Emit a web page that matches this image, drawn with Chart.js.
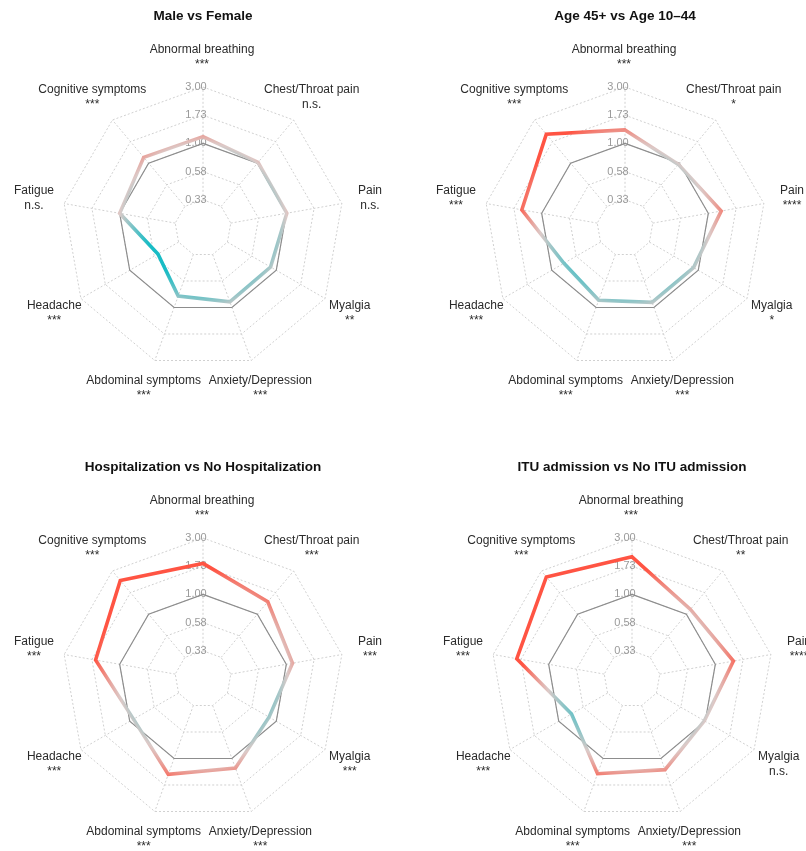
<!DOCTYPE html>
<html>
<head>
<meta charset="utf-8">
<title>Symptom odds ratios by group</title>
<script src="https://cdn.jsdelivr.net/npm/chart.js@4.4.1/dist/chart.umd.min.js"></script>
<style>
  html, body { margin: 0; padding: 0; background: #ffffff; }
  body { width: 806px; height: 851px; position: relative; overflow: hidden; }
  .panel { position: absolute; }
  .panel canvas { display: block; }
</style>
</head>
<body>
<div class="panel" style="left:0px;top:0px;"><canvas id="c0" width="403" height="440"></canvas></div>
<div class="panel" style="left:403px;top:0px;"><canvas id="c1" width="403" height="440"></canvas></div>
<div class="panel" style="left:0px;top:440px;"><canvas id="c2" width="403" height="411"></canvas></div>
<div class="panel" style="left:403px;top:440px;"><canvas id="c3" width="403" height="411"></canvas></div>

<script>
// ---- data -------------------------------------------------------------
const symptoms = [
  'Abnormal breathing', 'Chest/Throat pain', 'Pain', 'Myalgia',
  'Anxiety/Depression', 'Abdominal symptoms', 'Headache', 'Fatigue',
  'Cognitive symptoms'
];

// ring labels (ratio scale, log-spaced)
const tickLabels = ['0.33', '0.58', '1.00', '1.73', '3.00'];

// no-difference reference (ratio = 1)
const referenceRatio = [1, 1, 1, 1, 1, 1, 1, 1, 1];

const titles = [
  'Male vs Female',
  'Age 45+ vs Age 10\u201344',
  'Hospitalization vs No Hospitalization',
  'ITU admission vs No ITU admission'
];

const maleVsFemale      = [1.14, 1.02, 1.01, 0.88, 0.89, 0.79, 0.53, 1.00, 1.16];
const age45VsAge10to44  = [1.30, 0.97, 1.29, 0.90, 0.90, 0.86, 0.76, 1.48, 2.09];
const hospVsNoHosp      = [1.83, 1.37, 1.13, 0.85, 1.22, 1.39, 0.92, 1.61, 2.36];
const ituVsNoItu        = [2.08, 1.13, 1.43, 0.98, 1.26, 1.37, 0.75, 1.88, 2.58];

const sigMaleVsFemale   = ['***', 'n.s.', 'n.s.', '**', '***', '***', '***', 'n.s.', '***'];
const sigAge            = ['***', '*', '****', '*', '***', '***', '***', '***', '***'];
const sigHosp           = ['***', '***', '***', '***', '***', '***', '***', '***', '***'];
const sigItu            = ['***', '**', '****', 'n.s.', '***', '***', '***', '***', '***'];

// ---- layout / style ---------------------------------------------------
const FONT = '"Liberation Sans", Arial, Helvetica, sans-serif';
const TEAL = '#19bcc5';
const MID  = '#dccac8';
const RED  = '#ff5443';
const GRID = '#d0d0d0';

const panels = [
  { canvas: 'c0', cx: 203, cy: 228, title: titles[0], values: maleVsFemale,     sig: sigMaleVsFemale },
  { canvas: 'c1', cx: 222, cy: 228, title: titles[1], values: age45VsAge10to44, sig: sigAge },
  { canvas: 'c2', cx: 203, cy: 239, title: titles[2], values: hospVsNoHosp,     sig: sigHosp },
  { canvas: 'c3', cx: 229, cy: 239, title: titles[3], values: ituVsNoItu,       sig: sigItu }
];
const OUTER = 141;          // radius of the 3.00 ring

// ratios are drawn on a log base-3 radial axis
const LOG3 = v => Math.log(v) / Math.log(3);

// colour along the line follows the ratio: teal below 1, red above 1
function ratioGradient(context) {
  const chart = context.chart;
  const s = chart.scales && chart.scales.r;
  if (!chart.chartArea || !s || !s.drawingArea) return MID;
  const g = chart.ctx.createRadialGradient(s.xCenter, s.yCenter, 0, s.xCenter, s.yCenter, s.drawingArea);
  const at = v => Math.min(1, Math.max(0, s.getDistanceFromCenterForValue(v) / s.drawingArea));
  g.addColorStop(0, TEAL);
  g.addColorStop(at(-0.5), TEAL);
  g.addColorStop(at(0), MID);
  g.addColorStop(at(0.45), RED);
  g.addColorStop(1, RED);
  return g;
}

const radarDecor = {
  id: 'radarDecor',
  beforeDatasetsDraw(chart, args, opts) {
    const s = chart.scales.r;
    const ctx = chart.ctx;
    const inner = s.ticks[1].value;
    const outer = s.ticks[s.ticks.length - 1].value;
    ctx.save();
    // dotted spokes between the innermost and outermost rings
    ctx.strokeStyle = GRID;
    ctx.lineWidth = 1;
    ctx.setLineDash([2, 2]);
    for (let i = 0; i < symptoms.length; i++) {
      const a = s.getPointPositionForValue(i, inner);
      const b = s.getPointPositionForValue(i, outer);
      ctx.beginPath();
      ctx.moveTo(a.x, a.y);
      ctx.lineTo(b.x, b.y);
      ctx.stroke();
    }
    ctx.setLineDash([]);
    // ring labels along the top axis
    ctx.font = '11px ' + FONT;
    ctx.fillStyle = '#9a9a9a';
    ctx.textAlign = 'center';
    ctx.textBaseline = 'middle';
    tickLabels.forEach((t, k) => {
      const p = s.getPointPositionForValue(0, s.ticks[k + 1].value);
      ctx.fillText(t, p.x - 7, p.y);
    });
    ctx.restore();
  },
  afterDraw(chart, args, opts) {
    const s = chart.scales.r;
    const ctx = chart.ctx;
    ctx.save();
    ctx.textAlign = 'center';
    ctx.textBaseline = 'middle';
    // axis names with significance markers
    ctx.fillStyle = '#2b2b2b';
    ctx.font = '12px ' + FONT;
    const rLab = s.drawingArea * 1.21;
    for (let i = 0; i < symptoms.length; i++) {
      const p = s.getPointPosition(i, rLab);
      ctx.fillText(symptoms[i], p.x - 1, p.y - 7.5);
      ctx.fillText(opts.sig[i], p.x - 1, p.y + 7.5);
    }
    // panel title
    ctx.fillStyle = '#111111';
    ctx.font = 'bold 13.5px ' + FONT;
    ctx.fillText(opts.title, s.xCenter, s.yCenter - s.drawingArea * 1.504);
    ctx.restore();
  }
};

panels.forEach(pn => {
  const cv = document.getElementById(pn.canvas);
  const W = cv.width, H = cv.height;
  new Chart(cv, {
    type: 'radar',
    data: {
      labels: symptoms,
      datasets: [
        {
          data: pn.values.map(LOG3),
          borderColor: ratioGradient,
          borderWidth: 3.6,
          borderJoinStyle: 'miter',
          pointRadius: 0,
          fill: false
        },
        {
          data: referenceRatio.map(LOG3),
          borderColor: '#8d8d8d',
          borderWidth: 1.2,
          pointRadius: 0,
          fill: false
        }
      ]
    },
    options: {
      responsive: false,
      devicePixelRatio: 1,
      animation: false,
      events: [],
      layout: {
        padding: {
          left: pn.cx - OUTER,
          right: W - pn.cx - OUTER,
          top: pn.cy - OUTER,
          bottom: H - pn.cy - OUTER
        }
      },
      plugins: {
        legend: { display: false },
        tooltip: { enabled: false },
        title: { display: false },
        radarDecor: { title: pn.title, sig: pn.sig }
      },
      scales: {
        r: {
          min: -1.5,
          max: 1,
          startAngle: 0,
          ticks: { display: false, stepSize: 0.5 },
          grid: { color: GRID, lineWidth: 1 },
          border: { dash: [2, 2] },
          angleLines: { display: false },
          pointLabels: { display: false }
        }
      }
    },
    plugins: [radarDecor]
  });
});
</script>
</body>
</html>
